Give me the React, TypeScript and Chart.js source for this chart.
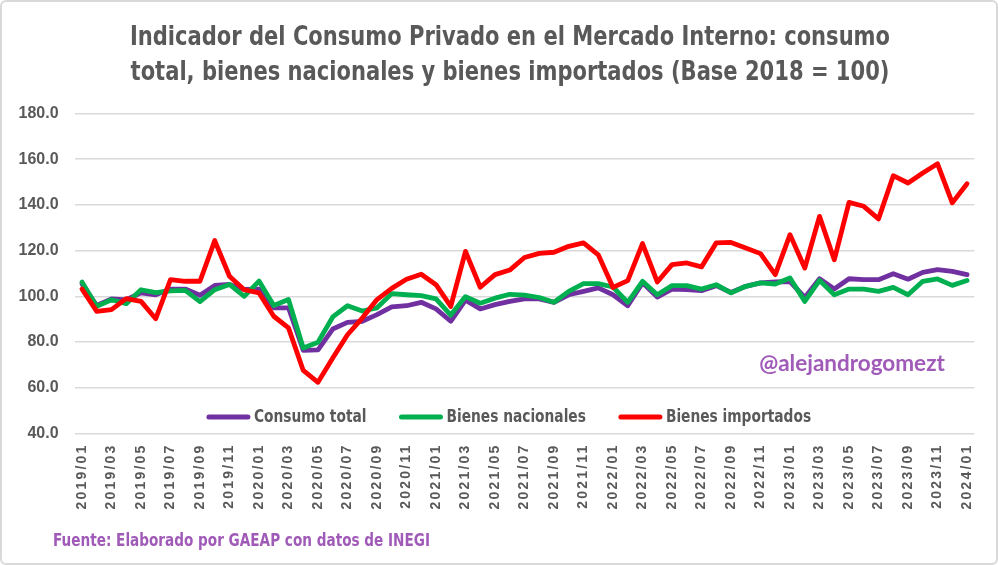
import { useEffect, useRef } from "react";
import { Chart, registerables } from "chart.js";

Chart.register(...registerables);

// Meses (2019/01 – 2024/01)
const meses = [
  "2019/01", "2019/02", "2019/03", "2019/04", "2019/05", "2019/06", "2019/07", "2019/08", "2019/09", "2019/10", "2019/11", "2019/12",
  "2020/01", "2020/02", "2020/03", "2020/04", "2020/05", "2020/06", "2020/07", "2020/08", "2020/09", "2020/10", "2020/11", "2020/12",
  "2021/01", "2021/02", "2021/03", "2021/04", "2021/05", "2021/06", "2021/07", "2021/08", "2021/09", "2021/10", "2021/11", "2021/12",
  "2022/01", "2022/02", "2022/03", "2022/04", "2022/05", "2022/06", "2022/07", "2022/08", "2022/09", "2022/10", "2022/11", "2022/12",
  "2023/01", "2023/02", "2023/03", "2023/04", "2023/05", "2023/06", "2023/07", "2023/08", "2023/09", "2023/10", "2023/11", "2023/12",
  "2024/01",
];

const consumoTotal = [
  105.5, 96.0, 98.9, 98.5, 101.5, 100.7, 103.2, 103.2, 100.5, 104.8, 105.2, 103.0,
  103.2, 95.0, 95.0, 76.4, 76.6, 85.7, 88.6, 89.1, 92.0, 95.4, 95.9, 97.4,
  94.5, 89.1, 98.3, 94.5, 96.4, 97.8, 98.9, 98.9, 97.4, 100.7, 102.2, 103.7,
  100.7, 95.9, 105.9, 99.7, 103.2, 103.0, 102.5, 104.7, 101.7, 104.4, 105.9, 106.3,
  106.5, 99.5, 107.7, 103.2, 107.7, 107.3, 107.3, 109.9, 107.5, 110.5, 111.7, 110.9,
  109.5,
];

const bienesNacionales = [
  106.3, 95.6, 98.5, 96.8, 102.9, 101.6, 102.4, 102.6, 97.7, 102.9, 105.2, 100.0,
  106.7, 96.0, 98.6, 77.4, 79.9, 91.0, 95.9, 93.6, 95.0, 101.2, 100.7, 100.3,
  98.9, 91.8, 99.9, 97.0, 99.2, 100.9, 100.5, 99.5, 97.4, 102.2, 105.6, 105.6,
  104.1, 97.4, 106.6, 100.7, 104.7, 104.7, 103.2, 105.1, 101.5, 104.4, 105.9, 105.4,
  108.0, 97.8, 107.0, 100.7, 103.2, 103.2, 102.2, 103.9, 100.7, 106.6, 107.6, 104.8,
  106.9,
];

const bienesImportados = [
  103.2, 93.4, 94.2, 99.0, 97.8, 90.2, 107.3, 106.6, 106.6, 124.4, 108.8, 102.9,
  101.5, 91.3, 86.2, 67.6, 62.4, 73.0, 83.2, 90.5, 98.6, 103.5, 107.5, 109.7,
  105.1, 95.6, 119.7, 104.0, 109.5, 111.5, 117.0, 118.8, 119.3, 121.9, 123.4, 118.2,
  103.9, 106.9, 123.1, 106.3, 113.9, 114.6, 112.9, 123.4, 123.6, 121.2, 118.7, 109.5,
  127.0, 112.4, 135.0, 116.0, 141.1, 139.4, 133.9, 152.8, 149.6, 154.0, 158.0, 140.9,
  149.3,
];

const series = [
  { nombre: "Consumo total", valores: consumoTotal, color: "#7030A0", orden: 2 },
  { nombre: "Bienes nacionales", valores: bienesNacionales, color: "#00B050", orden: 1 },
  { nombre: "Bienes importados", valores: bienesImportados, color: "#FF0000", orden: 0 },
];

const titulo = [
  "Indicador del Consumo Privado en el Mercado Interno: consumo",
  "total, bienes nacionales y bienes importados (Base 2018 = 100)",
];
const firma = "@alejandrogomezt";
const fuente = "Fuente: Elaborado por GAEAP con datos de INEGI";

const NARROW = '"DejaVu Sans Condensed", "Liberation Sans Narrow", Roboto, sans-serif';
const ARIAL = '"Liberation Sans", Arial, sans-serif';
const GRIS = "#595959";
const MORADO_TEXTO = "#A05AB8";
const ESTRECHO = 0.9; // horizontal squeeze for the condensed headline type

// Text squeezed horizontally around its anchor point
function textoEstrecho(
  ctx: CanvasRenderingContext2D,
  texto: string,
  x: number,
  y: number,
  sx: number
) {
  ctx.save();
  ctx.translate(x, y);
  ctx.scale(sx, 1);
  ctx.fillText(texto, 0, 0);
  ctx.restore();
}

// Title, legend, handle and source note drawn around the plot
const extras = {
  id: "extras",
  afterDatasetsDraw(chart: any) {
    // x tick labels (z: 1) are drawn after this hook, spaced out
    chart.ctx.letterSpacing = "2.2px";
  },
  afterDraw(chart: any) {
    const ctx = chart.ctx as CanvasRenderingContext2D;
    ctx.letterSpacing = "0px";
    ctx.save();

    // title
    ctx.fillStyle = GRIS;
    ctx.font = `bold 26px ${NARROW}`;
    ctx.textAlign = "center";
    ctx.textBaseline = "middle";
    titulo.forEach((linea, i) => textoEstrecho(ctx, linea, 510, 38 + i * 35, ESTRECHO));

    // legend
    const lineLen = 43;
    const gapText = 4;
    const gapItem = 33;
    const y = 417;
    ctx.font = `bold 17px ${NARROW}`;
    const items = chart.data.datasets.map((d: any) => ({
      label: d.label,
      color: d.borderColor,
      w: ctx.measureText(d.label).width * ESTRECHO,
    }));
    const total =
      items.reduce((s: number, it: any) => s + lineLen + gapText + it.w, 0) +
      gapItem * (items.length - 1);
    let x = 509 - total / 2;
    ctx.textAlign = "left";
    for (const it of items) {
      ctx.strokeStyle = it.color;
      ctx.lineWidth = 5;
      ctx.lineCap = "round";
      ctx.beginPath();
      ctx.moveTo(x + 2, y);
      ctx.lineTo(x + lineLen - 2, y);
      ctx.stroke();
      x += lineLen + gapText;
      ctx.fillStyle = GRIS;
      textoEstrecho(ctx, it.label, x, y + 1, ESTRECHO);
      x += it.w + gapItem;
    }

    // handle
    ctx.font = `bold 22.5px Lato, ${ARIAL}`;
    ctx.fillStyle = MORADO_TEXTO;
    ctx.textAlign = "center";
    ctx.fillText(firma, 852, 364);

    // source
    ctx.font = `bold 17px ${NARROW}`;
    ctx.textAlign = "left";
    textoEstrecho(ctx, fuente, 53, 542, 0.89);

    ctx.restore();
  },
};

export default function App() {
  const ref = useRef<HTMLCanvasElement | null>(null);

  useEffect(() => {
    document.body.style.margin = "0";
    const canvas = ref.current;
    if (!canvas) return;
    const chart = new Chart(canvas, {
      type: "line",
      data: {
        labels: meses,
        datasets: series.map((s) => ({
          label: s.nombre,
          data: s.valores,
          borderColor: s.color,
          backgroundColor: s.color,
          borderWidth: 4.8,
          pointRadius: 0,
          pointHoverRadius: 0,
          tension: 0,
          borderJoinStyle: "round" as const,
          borderCapStyle: "round" as const,
          order: s.orden,
        })),
      },
      options: {
        responsive: false,
        animation: false,
        layout: { padding: { left: 0, right: 23.6, top: 113.5, bottom: 0 } },
        plugins: {
          legend: { display: false },
          tooltip: { enabled: false },
          title: { display: false },
        },
        scales: {
          x: {
            offset: true,
            grid: { display: false, drawTicks: false },
            border: { display: false },
            ticks: {
              autoSkip: false,
              minRotation: 90,
              maxRotation: 90,
              padding: 10,
              color: GRIS,
              font: { family: ARIAL, size: 14, weight: "bold" },
              z: 1,
              callback: (_v: any, i: number) => (i % 2 === 0 ? meses[i] : ""),
            },
            afterFit: (scale: any) => {
              scale.height = 131.5;
            },
          },
          y: {
            min: 40,
            max: 180,
            grid: { color: "#D9D9D9", lineWidth: 1.5, drawTicks: false },
            border: { display: false },
            ticks: {
              stepSize: 20,
              padding: 16,
              color: GRIS,
              font: { family: ARIAL, size: 16, weight: "bold" },
              callback: (v: any) => Number(v).toFixed(1),
            },
            afterFit: (scale: any) => {
              scale.width = 74.6;
            },
          },
        },
      },
      plugins: [extras],
    });
    return () => chart.destroy();
  }, []);

  return (
    <div
      style={{
        position: "fixed",
        left: 0,
        top: 0,
        width: 998,
        height: 565,
        background: "#fff",
      }}
    >
      <canvas ref={ref} width={998} height={565} style={{ display: "block" }} />
      <div
        style={{
          position: "absolute",
          inset: 0,
          border: "2px solid #D9D9D9",
          borderRadius: 6,
          pointerEvents: "none",
        }}
      />
    </div>
  );
}
